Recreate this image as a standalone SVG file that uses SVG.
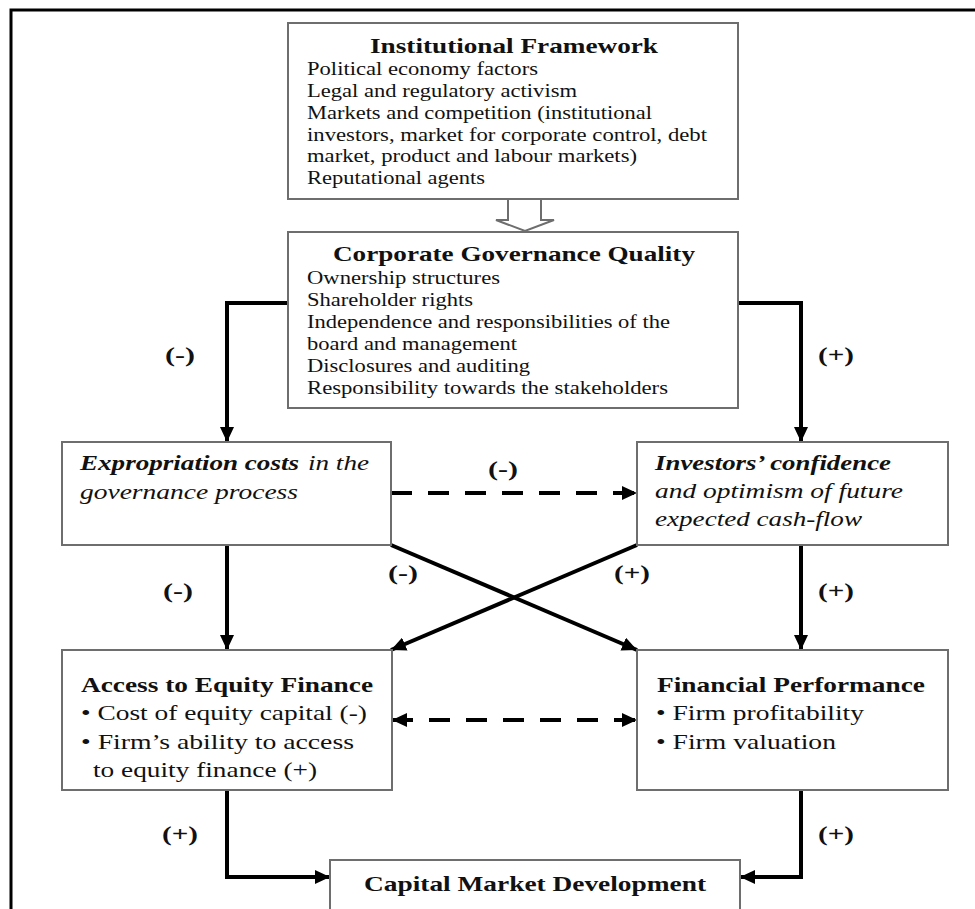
<svg xmlns="http://www.w3.org/2000/svg" width="975" height="909" viewBox="0 0 975 909">
<style>
.box{fill:#fff;stroke:#6e6e6e;stroke-width:2}
.t{font-family:"Liberation Serif","Times New Roman",serif;fill:#111}
.b{font-size:19px}
.h{font-size:22px;font-weight:bold}
.l{font-size:22px}
.bi{font-size:22px;font-weight:bold;font-style:italic}
.i{font-size:22px;font-style:italic}
.lab{font-family:"Liberation Serif","Times New Roman",serif;font-size:22px;font-weight:bold;fill:#111;text-anchor:middle}
.con{fill:none;stroke:#000;stroke-width:4}
.dash{fill:none;stroke:#000;stroke-width:4;stroke-dasharray:21 16}
</style>
<defs>
<marker id="ah" markerUnits="userSpaceOnUse" markerWidth="16" markerHeight="14" refX="15" refY="7" orient="auto-start-reverse">
<path d="M0,0 L15,7 L0,14 z" fill="#000"/>
</marker>
</defs>
<rect width="975" height="909" fill="#fff"/>
<path d="M11,909 V10 H975" fill="none" stroke="#000" stroke-width="3"/>

<g id="connectors">
<path d="M508,199 V220 H496 L525,231 L554,220 H541 V199" fill="#fff" stroke="#6e6e6e" stroke-width="2"/>
<path class="con" d="M288,303 H227 V442" marker-end="url(#ah)"/>
<path class="con" d="M738,303 H801 V442" marker-end="url(#ah)"/>
<path class="dash" d="M391,493 H637" marker-end="url(#ah)"/>
<path class="con" d="M227,545 V650" marker-end="url(#ah)"/>
<path class="con" d="M801,545 V650" marker-end="url(#ah)"/>
<path class="con" d="M391,545 L637,650" marker-end="url(#ah)"/>
<path class="con" d="M637,545 L391,650" marker-end="url(#ah)"/>
<path class="dash" d="M392,720 H637" marker-start="url(#ah)" marker-end="url(#ah)"/>
<path class="con" d="M227,790 V877 H330" marker-end="url(#ah)"/>
<path class="con" d="M801,790 V877 H740" marker-end="url(#ah)"/>
<text class="lab" x="180" y="362" textLength="30" lengthAdjust="spacingAndGlyphs">(-)</text>
<text class="lab" x="836" y="362" textLength="36" lengthAdjust="spacingAndGlyphs">(+)</text>
<text class="lab" x="503" y="476" textLength="30" lengthAdjust="spacingAndGlyphs">(-)</text>
<text class="lab" x="403" y="580" textLength="30" lengthAdjust="spacingAndGlyphs">(-)</text>
<text class="lab" x="632" y="580" textLength="36" lengthAdjust="spacingAndGlyphs">(+)</text>
<text class="lab" x="178" y="598" textLength="30" lengthAdjust="spacingAndGlyphs">(-)</text>
<text class="lab" x="836" y="598" textLength="36" lengthAdjust="spacingAndGlyphs">(+)</text>
<text class="lab" x="180" y="841" textLength="36" lengthAdjust="spacingAndGlyphs">(+)</text>
<text class="lab" x="836" y="841" textLength="36" lengthAdjust="spacingAndGlyphs">(+)</text>
</g>

<g id="institutional">
<rect class="box" x="288" y="23" width="450" height="176"/>
<text class="t h" x="370" y="53" textLength="288" lengthAdjust="spacingAndGlyphs">Institutional Framework</text>
<text class="t b" x="307" y="75" textLength="231" lengthAdjust="spacingAndGlyphs">Political economy factors</text>
<text class="t b" x="307" y="97" textLength="270" lengthAdjust="spacingAndGlyphs">Legal and regulatory activism</text>
<text class="t b" x="307" y="119" textLength="345" lengthAdjust="spacingAndGlyphs">Markets and competition (institutional</text>
<text class="t b" x="307" y="141" textLength="400" lengthAdjust="spacingAndGlyphs">investors, market for corporate control, debt</text>
<text class="t b" x="307" y="162" textLength="330" lengthAdjust="spacingAndGlyphs">market, product and labour markets)</text>
<text class="t b" x="307" y="184" textLength="178" lengthAdjust="spacingAndGlyphs">Reputational agents</text>
</g>

<g id="governance">
<rect class="box" x="288" y="232" width="450" height="176"/>
<text class="t h" x="333" y="261" textLength="362" lengthAdjust="spacingAndGlyphs">Corporate Governance Quality</text>
<text class="t b" x="307" y="284" textLength="193" lengthAdjust="spacingAndGlyphs">Ownership structures</text>
<text class="t b" x="307" y="306" textLength="166" lengthAdjust="spacingAndGlyphs">Shareholder rights</text>
<text class="t b" x="307" y="328" textLength="363" lengthAdjust="spacingAndGlyphs">Independence and responsibilities of the</text>
<text class="t b" x="307" y="350" textLength="210" lengthAdjust="spacingAndGlyphs">board and management</text>
<text class="t b" x="307" y="372" textLength="223" lengthAdjust="spacingAndGlyphs">Disclosures and auditing</text>
<text class="t b" x="307" y="394" textLength="361" lengthAdjust="spacingAndGlyphs">Responsibility towards the stakeholders</text>
</g>

<g id="expropriation">
<rect class="box" x="62" y="442" width="329" height="103"/>
<text class="t bi" x="80" y="470" textLength="219" lengthAdjust="spacingAndGlyphs">Expropriation costs</text>
<text class="t i" x="308" y="470" textLength="61" lengthAdjust="spacingAndGlyphs">in the</text>
<text class="t i" x="80" y="499" textLength="218" lengthAdjust="spacingAndGlyphs">governance process</text>
</g>

<g id="investors">
<rect class="box" x="637" y="442" width="311" height="103"/>
<text class="t bi" x="655" y="470" textLength="236" lengthAdjust="spacingAndGlyphs">Investors’ confidence</text>
<text class="t i" x="655" y="498" textLength="248" lengthAdjust="spacingAndGlyphs">and optimism of future</text>
<text class="t i" x="655" y="526" textLength="207" lengthAdjust="spacingAndGlyphs">expected cash-flow</text>
</g>

<g id="access">
<rect class="box" x="62" y="650" width="330" height="140"/>
<text class="t h" x="81" y="692" textLength="292" lengthAdjust="spacingAndGlyphs">Access to Equity Finance</text>
<text class="t l" x="81" y="720" textLength="286" lengthAdjust="spacingAndGlyphs">• Cost of equity capital (-)</text>
<text class="t l" x="81" y="749" textLength="273" lengthAdjust="spacingAndGlyphs">• Firm’s ability to access</text>
<text class="t l" x="93" y="777" textLength="224" lengthAdjust="spacingAndGlyphs">to equity finance (+)</text>
</g>

<g id="financial">
<rect class="box" x="637" y="650" width="311" height="140"/>
<text class="t h" x="657" y="692" textLength="268" lengthAdjust="spacingAndGlyphs">Financial Performance</text>
<text class="t l" x="656" y="720" textLength="208" lengthAdjust="spacingAndGlyphs">• Firm profitability</text>
<text class="t l" x="656" y="749" textLength="180" lengthAdjust="spacingAndGlyphs">• Firm valuation</text>
</g>

<g id="capital">
<rect class="box" x="330" y="860" width="410" height="70"/>
<text class="t h" x="364" y="891" textLength="342" lengthAdjust="spacingAndGlyphs">Capital Market Development</text>
</g>
</svg>
